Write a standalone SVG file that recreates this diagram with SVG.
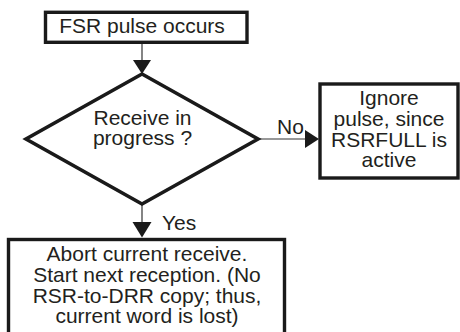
<svg xmlns="http://www.w3.org/2000/svg" width="460" height="332" viewBox="0 0 460 332">
<defs>
<style>
.box{fill:#fff;stroke:#1a1a1a;stroke-width:3.4}
.dia{fill:#fff;stroke:#1a1a1a;stroke-width:3.6;stroke-linejoin:miter}
.ln{stroke:#333;stroke-width:1.2;fill:none}
.ah{fill:#1a1a1a}
text{font-family:"Liberation Sans",Arial,sans-serif;font-size:21px;fill:#231f20}
.c{text-anchor:middle}
</style>
</defs>
<g id="connectors">
<line class="ln" x1="142" y1="44" x2="142" y2="62"/>
<polygon class="ah" points="133,60 151,60 142,74"/>
<line class="ln" x1="258" y1="139" x2="307" y2="139"/>
<polygon class="ah" points="305,130 305,148 319,139"/>
<line class="ln" x1="142" y1="204" x2="142" y2="224"/>
<polygon class="ah" points="132.5,222 151.5,222 142,237.5"/>
<text x="277" y="134">No</text>
<text x="162" y="229.5">Yes</text>
</g>
<g id="start">
<rect class="box" x="45.5" y="12.3" width="201.5" height="30"/>
<text class="c" x="142" y="33.3">FSR pulse occurs</text>
</g>
<g id="decision">
<polygon class="dia" points="142,74 258,139 142,204 26,139"/>
<text class="c" x="142.5" y="125">Receive in</text>
<text class="c" x="142.5" y="145">progress ?</text>
</g>
<g id="ignore">
<rect class="box" x="320" y="84" width="138" height="94"/>
<text class="c" x="389" y="105">Ignore</text>
<text class="c" x="389" y="125.7">pulse, since</text>
<text class="c" x="389" y="146.5">RSRFULL is</text>
<text class="c" x="389" y="167.3">active</text>
</g>
<g id="abort">
<rect class="box" x="8.5" y="239.5" width="276" height="96"/>
<text class="c" x="147" y="261">Abort current receive.</text>
<text class="c" x="147" y="281.7">Start next reception. (No</text>
<text class="c" x="147" y="302.5">RSR-to-DRR copy; thus,</text>
<text class="c" x="147" y="323.3">current word is lost)</text>
</g>
</svg>
